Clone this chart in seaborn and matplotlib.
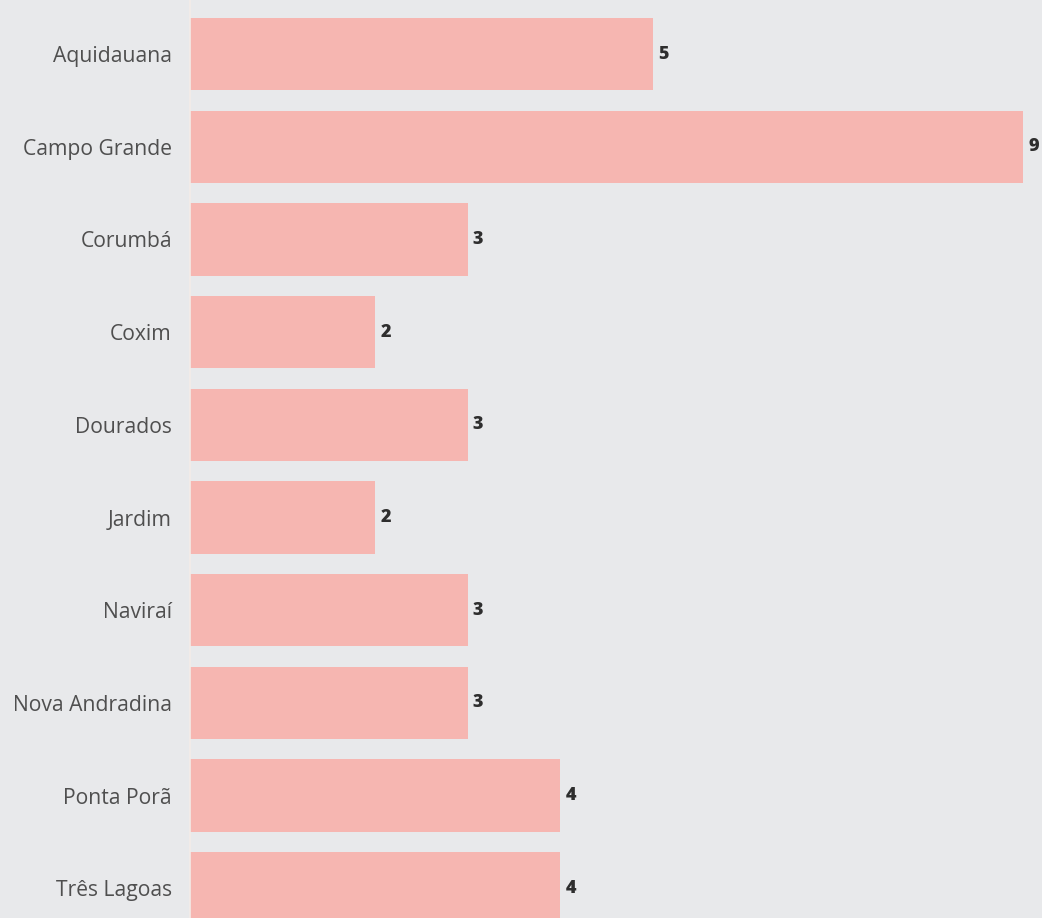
import matplotlib
matplotlib.use("Agg")
import matplotlib.pyplot as plt
import seaborn as sns
import pandas as pd

cities = ["Aquidauana", "Campo Grande", "Corumbá", "Coxim", "Dourados", "Jardim",
          "Naviraí", "Nova Andradina", "Ponta Porã", "Três Lagoas"]
values = [5, 9, 3, 2, 3, 2, 3, 3, 4, 4]

df = pd.DataFrame({"city": cities, "value": values})

sns.set_theme(style="white")
plt.rcParams["font.family"] = ["Open Sans", "DejaVu Sans"]

bg = "#e8e9eb"
fig = plt.figure(figsize=(10.42, 9.18), dpi=100, facecolor=bg)
ax = fig.add_axes([190 / 1042, 0, 852 / 1042, 1])
ax.set_facecolor(bg)

sns.barplot(data=df, y="city", x="value", orient="h", color="#f6b6b1",
            saturation=1, width=0.78, linewidth=0, ax=ax)

ax.set_xlim(0, 9.2)
ax.set_ylim(9.32, -0.583)
ax.set_xlabel("")
ax.set_ylabel("")
ax.set_xticks([])
for s in ["top", "right", "bottom"]:
    ax.spines[s].set_visible(False)
ax.spines["left"].set_color("#f3ece8")
ax.spines["left"].set_linewidth(1.2)
ax.tick_params(axis="y", length=0, pad=13, labelsize=15.2, labelcolor="#4f4f4f")

for i, v in enumerate(values):
    ax.text(v + 0.055, i, str(v), va="center", ha="left", fontsize=13,
            fontweight="heavy", color="#2e2e2e", clip_on=False)

fig.savefig("out.png", dpi=100, facecolor=bg)
